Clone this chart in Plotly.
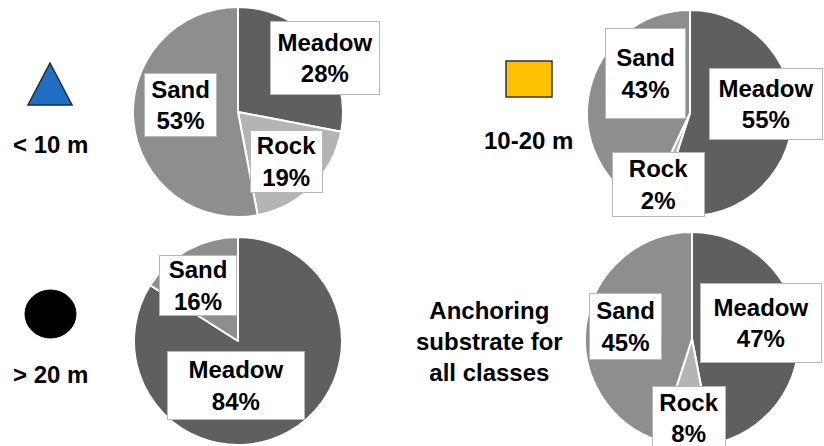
import plotly.graph_objects as go

# ---- data ----
categories = ["Meadow", "Rock", "Sand"]
shallow_values = [28, 19, 53]        # < 10 m
mid_values = [55, 2, 43]             # 10-20 m
deep_categories = ["Meadow", "Sand"]
deep_values = [84, 16]               # > 20 m
all_values = [47, 8, 45]             # all classes
group_labels = ["< 10 m", "10-20 m", "> 20 m", "Anchoring<br>substrate for<br>all classes"]

# ---- style ----
W, H = 824, 446
colors = {"Meadow": "#5f5f5f", "Rock": "#b4b4b4", "Sand": "#8e8e8e"}
FONT = "Arial, Liberation Sans, sans-serif"

def px(x):
    return x / W

def py(y):
    return 1 - y / H

# pie centre (x, y) and radius in pixels
pies = [
    (categories, shallow_values, (238, 112, 105)),
    (categories, mid_values, (690, 113, 103)),
    (deep_categories, deep_values, (238, 341, 104)),
    (categories, all_values, (692, 339, 107)),
]

# label boxes per pie: (cx, cy, w, h) in pixels, in category order
label_boxes = [
    [(325, 58, 110, 74), (286, 161, 73, 63), (180, 105, 73, 64)],
    [(766, 104, 114, 72), (658, 184, 93, 65), (645, 73, 81, 91)],
    [(236, 385, 138, 69), (198, 285, 78, 61)],
    [(761, 323, 122, 80), (689, 418, 74, 64), (625, 326, 73, 67)],
]

group_label_pos = [(50, 145), (528, 140), (50, 374), (489, 341)]

fig = go.Figure()
annotations = []
for (cats, vals, (cx, cy, r)), boxes in zip(pies, label_boxes):
    fig.add_trace(go.Pie(
        labels=cats, values=vals, sort=False, direction="clockwise", rotation=0,
        marker=dict(colors=[colors[c] for c in cats], line=dict(color="white", width=2)),
        textinfo="none", hoverinfo="label+percent", showlegend=False,
        domain=dict(x=[px(cx - r), px(cx + r)], y=[py(cy + r), py(cy - r)]),
    ))
    for c, v, (bx, by, bw, bh) in zip(cats, vals, boxes):
        annotations.append(dict(
            x=px(bx), y=py(by), xref="paper", yref="paper", showarrow=False,
            text=f"<b>{c}<br>{v}%</b>", font=dict(family=FONT, size=24, color="black"),
            bgcolor="white", bordercolor="#b8b8b8", borderwidth=1, borderpad=0,
            width=bw - 2, height=bh - 2, align="center", valign="middle",
            xanchor="center", yanchor="middle",
        ))

for txt, (tx, ty) in zip(group_labels, group_label_pos):
    annotations.append(dict(
        x=px(tx), y=py(ty), xref="paper", yref="paper", showarrow=False,
        text=f"<b>{txt}</b>", font=dict(family=FONT, size=24, color="black"),
        align="center", xanchor="center", yanchor="middle",
    ))

shapes = [
    # triangle symbol
    dict(type="path", xref="paper", yref="paper",
         path=f"M {px(50)},{py(63)} L {px(28)},{py(105)} L {px(72)},{py(105)} Z",
         fillcolor="#1f6fc2", line=dict(color="#1a2a50", width=1.5)),
    # square symbol
    dict(type="rect", xref="paper", yref="paper",
         x0=px(506), x1=px(552), y0=py(97), y1=py(61),
         fillcolor="#ffc000", line=dict(color="#333333", width=1.5)),
    # circle symbol
    dict(type="circle", xref="paper", yref="paper",
         x0=px(25), x1=px(76), y0=py(338), y1=py(290),
         fillcolor="black", line=dict(color="black", width=1)),
]

fig.update_layout(
    width=W, height=H, margin=dict(l=0, r=0, t=0, b=0),
    paper_bgcolor="white", plot_bgcolor="white",
    annotations=annotations, shapes=shapes,
)

fig.write_html(
    "out.html",
    config={"displayModeBar": False},
    post_script="document.body.style.margin='0';document.body.style.overflow='hidden';",
)
